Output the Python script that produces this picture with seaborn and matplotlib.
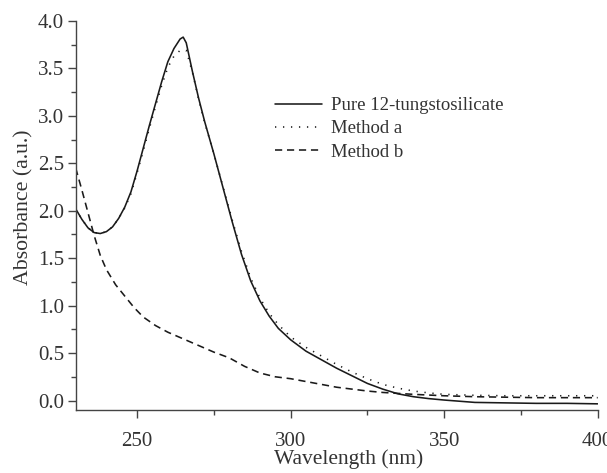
import numpy as np
import pandas as pd
import matplotlib
matplotlib.use("Agg")
import matplotlib.pyplot as plt
import seaborn as sns
from matplotlib.ticker import MultipleLocator, FormatStrFormatter

# ---- data ----
pure_wl = [230, 232, 234, 236, 238, 240, 242, 244, 246, 248, 250, 252, 254, 256, 258, 260, 262, 264, 265,
           266, 268, 270, 272, 275, 278, 281, 284, 287, 290, 293, 296, 300, 305, 310, 315,
           320, 325, 330, 335, 340, 345, 350, 360, 370, 380, 390, 400]
pure_abs = [2.02, 1.91, 1.82, 1.77, 1.76, 1.78, 1.83, 1.92, 2.04, 2.20, 2.42, 2.66, 2.90, 3.13, 3.36, 3.57, 3.71, 3.81, 3.83,
            3.77, 3.47, 3.19, 2.94, 2.60, 2.24, 1.88, 1.54, 1.26, 1.05, 0.89, 0.76, 0.64, 0.52, 0.43, 0.34,
            0.26, 0.18, 0.12, 0.07, 0.04, 0.02, 0.005, -0.02, -0.025, -0.03, -0.03, -0.035]

a_wl = [230, 232, 234, 236, 238, 240, 242, 244, 246, 248, 250, 252, 254, 256, 258, 260, 262, 264, 266,
        268, 270, 272, 275, 278, 281, 284, 287, 290, 293, 296, 300, 305, 310, 315,
        320, 325, 330, 335, 340, 345, 350, 360, 370, 380, 390, 400]
a_abs = [2.02, 1.91, 1.82, 1.77, 1.76, 1.78, 1.83, 1.92, 2.03, 2.18, 2.40, 2.63, 2.87, 3.10, 3.32, 3.51, 3.63, 3.69, 3.69,
         3.46, 3.18, 2.93, 2.60, 2.25, 1.90, 1.57, 1.29, 1.08, 0.92, 0.80, 0.67, 0.56, 0.47, 0.38,
         0.30, 0.23, 0.17, 0.13, 0.10, 0.08, 0.065, 0.055, 0.05, 0.05, 0.05, 0.05]

b_wl = [230, 232, 234, 236, 238, 240, 243, 246, 249, 252, 256, 260, 265, 270, 275, 280,
        285, 290, 295, 300, 305, 310, 315, 320, 325, 330, 340, 350, 360, 370, 380, 390, 400]
b_abs = [2.45, 2.22, 1.98, 1.74, 1.53, 1.38, 1.22, 1.10, 0.98, 0.88, 0.79, 0.72, 0.65, 0.58, 0.51, 0.45,
         0.36, 0.29, 0.25, 0.23, 0.20, 0.17, 0.14, 0.12, 0.10, 0.085, 0.065, 0.05, 0.04, 0.035, 0.03, 0.03, 0.03]

labels = ["Pure 12-tungstosilicate", "Method a", "Method b"]

df = pd.concat([
    pd.DataFrame({"Wavelength": pure_wl, "Absorbance": pure_abs, "series": labels[0]}),
    pd.DataFrame({"Wavelength": a_wl, "Absorbance": a_abs, "series": labels[1]}),
    pd.DataFrame({"Wavelength": b_wl, "Absorbance": b_abs, "series": labels[2]}),
], ignore_index=True)

sns.set_theme(style="ticks")
plt.rcParams["font.family"] = ["Liberation Serif", "DejaVu Serif"]

txt = "#333333"
ink = "#1a1a1a"
axc = "#444444"

fig = plt.figure(figsize=(6.07, 4.73), dpi=100)
ax = fig.add_axes([75.7 / 607, 1 - 410 / 473, (597.7 - 75.7) / 607, (410 - 21) / 473])

sns.lineplot(data=df, x="Wavelength", y="Absorbance", hue="series", style="series",
             palette={l: ink for l in labels},
             dashes={labels[0]: "", labels[1]: (0.8, 4.2), labels[2]: (4.5, 3.0)},
             estimator=None, sort=True, linewidth=1.15, ax=ax)

ax.set_xlim(230, 400)
ax.set_ylim(-0.1, 4.0)
ax.xaxis.set_major_locator(MultipleLocator(50))
ax.xaxis.set_minor_locator(MultipleLocator(25))
ax.yaxis.set_major_locator(MultipleLocator(0.5))
ax.yaxis.set_minor_locator(MultipleLocator(0.25))
ax.yaxis.set_major_formatter(FormatStrFormatter("%.1f"))

for s in ["top", "right"]:
    ax.spines[s].set_visible(False)
for s in ["left", "bottom"]:
    ax.spines[s].set_color(axc)
    ax.spines[s].set_linewidth(1.0)

ax.tick_params(axis="both", which="major", direction="out", length=6, width=1.0,
               color=axc, labelsize=15, labelcolor=txt)
ax.tick_params(axis="both", which="minor", direction="out", length=3.5, width=1.0, color=axc)
ax.tick_params(axis="y", which="major", pad=2.5)
ax.tick_params(axis="x", which="major", pad=9.5)

ax.set_xlabel("Wavelength (nm)", fontsize=15.5, color=txt)
ax.set_ylabel("Absorbance (a.u.)", fontsize=15.7, color=txt)
ax.xaxis.set_label_coords((349 - 75.7) / 522, (410 - 449) / 389)
ax.yaxis.set_label_coords((33 - 75.7) / 522, (410 - 207.5) / 389)

ax.legend(handles=ax.get_legend().legend_handles,
          labels=labels, frameon=False, fontsize=13.5,
          loc="upper left", bbox_to_anchor=(275 / 607, 1 - 97 / 473),
          bbox_transform=fig.transFigure, borderpad=0, borderaxespad=0,
          handlelength=2.5, handletextpad=0.5, labelspacing=0.33, labelcolor=txt)

fig.savefig("out.png", dpi=100, facecolor="white")
